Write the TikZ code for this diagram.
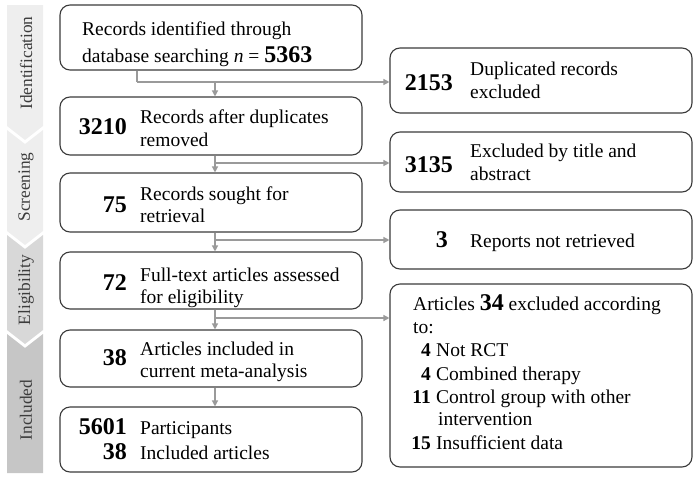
\documentclass[tikz,border=0pt]{standalone}
\usepackage{fontspec}
\setmainfont{Liberation Serif}
\usetikzlibrary{arrows.meta,calc}
\definecolor{boxline}{HTML}{3A3A3A}
\definecolor{arrline}{HTML}{9A9A9A}
\definecolor{bandA}{HTML}{EEEEEE}
\definecolor{bandB}{HTML}{D8D8D8}
\definecolor{bandC}{HTML}{C6C6C6}
\definecolor{labelc}{HTML}{3C3C3C}
\tikzset{
 flowbox/.style={draw=boxline, line width=1.1pt, rounded corners=10pt, inner sep=0pt, minimum width=302pt},
 txt/.style={anchor=base west, inner sep=0pt, font=\fontsize{19.5}{23}\selectfont},
 num/.style={anchor=base east, inner sep=0pt, font=\fontsize{24}{28}\selectfont\bfseries},
 snum/.style={anchor=base east, inner sep=0pt, font=\fontsize{19.5}{23}\selectfont\bfseries},
 conn/.style={draw=arrline, line width=1.3pt},
 arr/.style={conn, -{Triangle[width=6pt,length=6pt]}},
 bandlabel/.style={rotate=90, font=\fontsize{17.3}{21}\selectfont, text=labelc, inner sep=0pt}
}
\begin{document}
\begin{tikzpicture}[x=1pt,y=-1pt]
\useasboundingbox (0,0) rectangle (699,477);
% stage bands
\fill[bandA] (7,5) -- (43,5) -- (43,126) -- (25,140) -- (7,126) -- cycle;
\fill[bandA] (7,130) -- (25,144) -- (43,130) -- (43,231) -- (25,245) -- (7,231) -- cycle;
\fill[bandB] (7,235) -- (25,249) -- (43,235) -- (43,330) -- (25,344) -- (7,330) -- cycle;
\fill[bandC] (7,334) -- (25,348) -- (43,334) -- (43,473) -- (7,473) -- cycle;
\node[bandlabel] (l1) at (26,63) {Identification};
\node[bandlabel] (l2) at (26,187) {Screening};
\node[bandlabel] (l3) at (26,290) {Eligibility};
\node[bandlabel] (l4) at (26,410) {Included};
% left boxes
\node[flowbox, minimum height=65pt] (b1) at (211,37.5) {};
\node[flowbox, minimum height=58pt] (b2) at (211,126) {};
\node[flowbox, minimum height=59pt] (b3) at (211,202.5) {};
\node[flowbox, minimum height=57pt] (b4) at (211,280.5) {};
\node[flowbox, minimum height=57pt] (b5) at (211,358.5) {};
\node[flowbox, minimum height=65pt] (b6) at (211,439.5) {};
% right boxes
\node[flowbox, minimum height=65pt] (r1) at (541,80.5) {};
\node[flowbox, minimum height=60pt] (r2) at (541,162) {};
\node[flowbox, minimum height=59pt] (r3) at (541,239.5) {};
\node[flowbox, minimum height=183pt] (r4) at (541,375.5) {};
% texts left
\node[txt] (t1a) at (82,35) {Records identified through};
\node[txt] (t1b) at (82,62) {database searching \textit{n} = {\fontsize{24}{28}\selectfont\bfseries 5363}};
\node[num] (n2) at (127,134) {3210};
\node[txt] (t2a) at (140,123) {Records after duplicates};
\node[txt] (t2b) at (140,146) {removed};
\node[num] (n3) at (127,212) {75};
\node[txt] (t3a) at (140,200) {Records sought for};
\node[txt] (t3b) at (140,222) {retrieval};
\node[num] (n4) at (127,290) {72};
\node[txt] (t4a) at (140,281) {Full-text articles assessed};
\node[txt] (t4b) at (140,303) {for eligibility};
\node[num] (n5) at (127,365) {38};
\node[txt] (t5a) at (140,355) {Articles included in};
\node[txt] (t5b) at (140,377) {current meta-analysis};
\node[num] (n6a) at (127,434) {5601};
\node[txt] (t6a) at (140,434) {Participants};
\node[num] (n6b) at (127,459) {38};
\node[txt] (t6b) at (140,459) {Included articles};
% texts right
\node[num] (m1) at (453,90) {2153};
\node[txt] (s1a) at (470,75) {Duplicated records};
\node[txt] (s1b) at (470,98) {excluded};
\node[num] (m2) at (453,172) {3135};
\node[txt] (s2a) at (470,157) {Excluded by title and};
\node[txt] (s2b) at (470,180) {abstract};
\node[num] (m3) at (448,247) {3};
\node[txt] (s3) at (470,247) {Reports not retrieved};
\node[txt] (s4a) at (413,310) {Articles {\fontsize{24}{28}\selectfont\bfseries 34} excluded according};
\node[txt] (s4b) at (413,333) {to:};
\node[snum] (k1) at (431,356) {4};
\node[txt] (s4c) at (436,356) {Not RCT};
\node[snum] (k2) at (431,380) {4};
\node[txt] (s4d) at (436,380) {Combined therapy};
\node[snum] (k3) at (431,403) {11};
\node[txt] (s4e) at (436,403) {Control group with other};
\node[txt] (s4f) at (438,425) {intervention};
\node[snum] (k4) at (431,449) {15};
\node[txt] (s4g) at (436,449) {Insufficient data};
% connectors
\coordinate (mx) at (215,0);
\coordinate (j1) at (137,82);
\coordinate (j2) at (215,163);
\coordinate (j3) at (215,240);
\coordinate (j4) at (215,318);
\draw[conn] (b1.south -| j1) -- (j1);
\draw[arr] (j1) -- (j1 -| r1.west);
\draw[arr] (j1 -| mx) -- (b2.north -| mx);
\draw[arr] (b2.south -| mx) -- (b3.north -| mx);
\draw[arr] (j2) -- (j2 -| r2.west);
\draw[arr] (b3.south -| mx) -- (b4.north -| mx);
\draw[arr] (j3) -- (j3 -| r3.west);
\draw[arr] (b4.south -| mx) -- (b5.north -| mx);
\draw[arr] (j4) -- (j4 -| r4.west);
\draw[arr] (b5.south -| mx) -- (b6.north -| mx);
\end{tikzpicture}
\end{document}
